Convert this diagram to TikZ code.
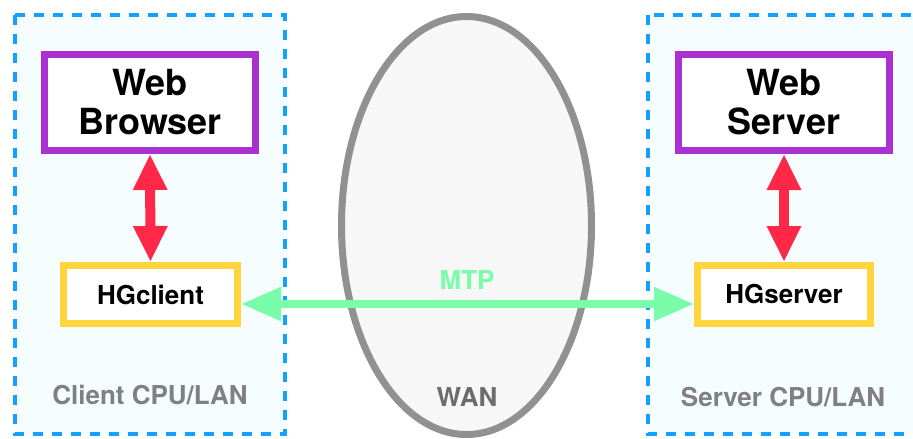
\documentclass[tikz,border=0pt]{standalone}
\usepackage{fontspec}
\setmainfont{TeX Gyre Heros}
\usetikzlibrary{arrows.meta,shapes.geometric}

\definecolor{lanfill}{RGB}{245,253,255}
\definecolor{landash}{RGB}{20,160,255}
\definecolor{appbox}{RGB}{170,48,208}
\definecolor{gatebox}{RGB}{255,212,60}
\definecolor{localarrow}{RGB}{255,40,72}
\definecolor{mtpgreen}{RGB}{122,252,170}
\definecolor{wangray}{RGB}{145,145,145}
\definecolor{wanfill}{RGB}{247,247,247}
\definecolor{labelgray}{RGB}{128,128,128}
\definecolor{wantext}{RGB}{108,108,108}

\tikzset{
  lanzone/.style={draw=landash, fill=lanfill, line width=3.5pt, dash pattern=on 10pt off 9pt},
  appnode/.style={draw=appbox, fill=white, line width=7pt, inner sep=0pt,
    minimum width=211pt, minimum height=96pt, align=center,
    font=\fontsize{36}{39}\selectfont\bfseries},
  gatenode/.style={draw=gatebox, fill=white, line width=7pt, inner sep=0pt,
    minimum height=58pt, font=\fontsize{26}{30}\selectfont\bfseries},
  zonelabel/.style={text=labelgray, font=\fontsize{26}{30}\selectfont\bfseries},
  localflow/.style={draw=localarrow, line width=10pt,
    {Triangle[length=36pt,width=32pt]}-{Triangle[length=36pt,width=32pt]}},
  mtpflow/.style={draw=mtpgreen, line width=8pt,
    {Triangle[length=40pt,width=32pt]}-{Triangle[length=40pt,width=32pt]}}
}

\begin{document}
\begin{tikzpicture}[x=1pt,y=-1pt]
  \clip (0,0) rectangle (913,439);
  \fill[white] (0,0) rectangle (913,439);

  % client and server zones
  \draw[lanzone] (15,15) rectangle (285,434);
  \draw[lanzone] (648,15) rectangle (940,434);

  % wide area network
  \node[ellipse, draw=wangray, fill=wanfill, line width=7pt, inner sep=0pt,
        minimum width=250pt, minimum height=418pt] (wan) at (466.5,225.5) {};
  \node[text=wantext, font=\fontsize{26}{30}\selectfont\bfseries] (wanlabel) at (467,397) {WAN};

  % applications
  \node[appnode] (browser) at (150,102.5) {Web\\Browser};
  \node[appnode] (server) at (784,102.5) {Web\\Server};

  % gateways
  \node[gatenode, minimum width=174pt] (hgc) at (150.5,294.5) {HGclient};
  \node[gatenode, minimum width=173pt] (hgs) at (784,294.5) {HGserver};

  % zone labels
  \node[zonelabel] (clientlabel) at (150,395) {Client CPU/LAN};
  \node[zonelabel] (serverlabel) at (783,397) {Server CPU/LAN};

  % local links
  \draw[localflow] (browser.south) -- (hgc.north);
  \draw[localflow] (server.south) -- (hgs.north);

  % MTP link across the WAN
  \coordinate (mtpy) at (0,304);
  \draw[mtpflow] (hgc.east |- mtpy) -- (hgs.west |- mtpy);
  \node[text=mtpgreen, font=\fontsize{26}{30}\selectfont\bfseries] (mtplabel) at (467,280) {MTP};
\end{tikzpicture}
\end{document}
